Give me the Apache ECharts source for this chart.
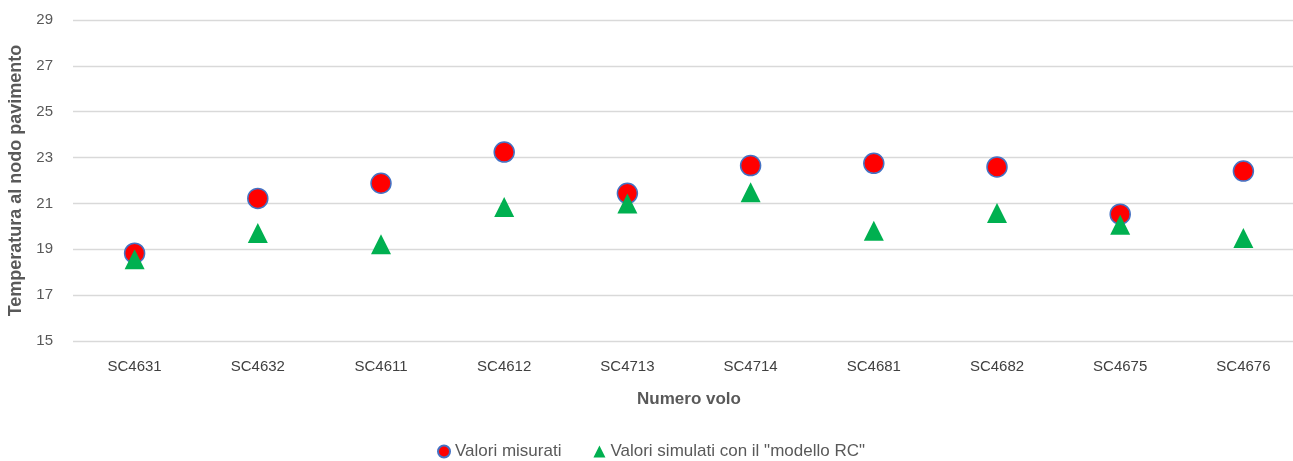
<!DOCTYPE html>
<html>
<head>
<meta charset="utf-8">
<script src="https://cdn.jsdelivr.net/npm/echarts@6/dist/echarts.min.js"></script>
<style>html,body{margin:0;padding:0;background:#fff}#c{width:1293px;height:461px}</style>
</head>
<body>
<div id="c"></div>
<script>
const categories = ['SC4631','SC4632','SC4611','SC4612','SC4713','SC4714','SC4681','SC4682','SC4675','SC4676'];
const measured = [18.83, 21.22, 21.88, 23.24, 21.44, 22.65, 22.75, 22.59, 20.53, 22.41];
const simulated = [18.56, 19.71, 19.22, 20.84, 21.0, 21.49, 19.81, 20.58, 20.07, 19.49];
const yMin = 15, yMax = 29, yStep = 2;

const font = '"Liberation Sans", "Noto Sans", sans-serif';
const chart = echarts.init(document.getElementById('c'));
chart.setOption({
  animation: false,
  textStyle: { fontFamily: font },
  grid: { left: 73, top: 20, width: 1232, height: 321, containLabel: false, outerBoundsMode: 'none' },
  legend: {
    top: 443, left: 437, padding: 0, itemGap: 32, itemWidth: 12, itemHeight: 12,
    textStyle: { color: '#595959', fontSize: 17, fontFamily: font },
    data: [
      { name: 'Valori misurati', icon: 'circle' },
      { name: 'Valori simulati con il "modello RC"', icon: 'triangle' }
    ]
  },
  xAxis: {
    type: 'category', data: categories,
    name: 'Numero volo', nameLocation: 'middle', nameGap: 50,
    nameTextStyle: { color: '#595959', fontSize: 17, fontWeight: 'bold', fontFamily: font },
    axisLine: { show: false }, axisTick: { show: false },
    axisLabel: { color: '#404040', fontSize: 15, margin: 18, fontFamily: font },
    splitLine: { show: false }
  },
  yAxis: {
    type: 'value', min: yMin, max: yMax, interval: yStep,
    name: 'Temperatura al nodo pavimento', nameLocation: 'middle', nameGap: 39,
    nameTextStyle: { color: '#595959', fontSize: 18, fontWeight: 'bold', fontFamily: font },
    axisLine: { show: false }, axisTick: { show: false },
    axisLabel: { color: '#595959', fontSize: 15, margin: 20, fontFamily: font },
    splitLine: { lineStyle: { color: '#d9d9d9', width: 1.3 } }
  },
  series: [
    {
      name: 'Valori misurati', type: 'scatter', data: measured,
      symbol: 'circle', symbolSize: 20,
      itemStyle: { color: '#ff0000', borderColor: '#4472c4', borderWidth: 1.5, opacity: 1 }
    },
    {
      name: 'Valori simulati con il "modello RC"', type: 'scatter', data: simulated,
      symbol: 'triangle', symbolSize: 20,
      itemStyle: { color: '#00b050', opacity: 1 }
    }
  ]
});
</script>
</body>
</html>
